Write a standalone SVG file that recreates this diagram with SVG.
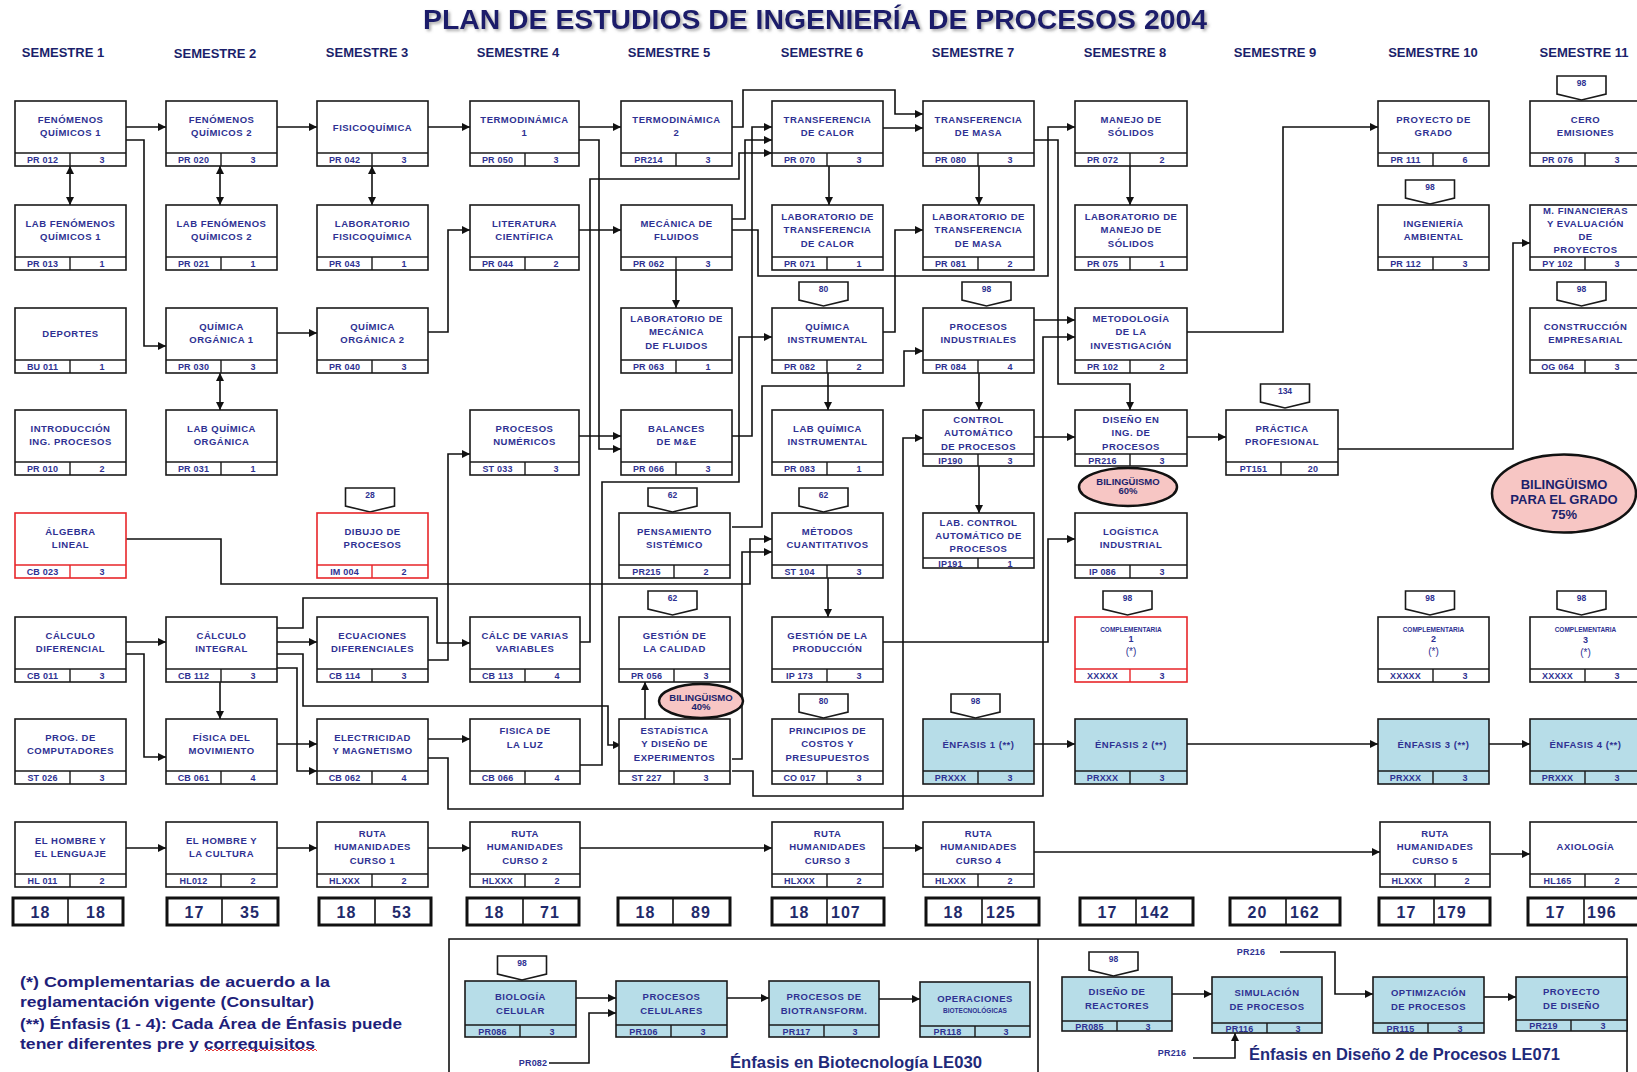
<svg xmlns="http://www.w3.org/2000/svg" width="1637" height="1072" viewBox="0 0 1637 1072">
<defs>
<marker id="a" viewBox="0 0 10 10" refX="10" refY="5" markerWidth="9" markerHeight="8" markerUnits="userSpaceOnUse" orient="auto-start-reverse"><path d="M0,0 L10,5 L0,10 z" fill="#111"/></marker>
<filter id="sh" x="-5%" y="-20%" width="110%" height="150%"><feDropShadow dx="2" dy="2" stdDeviation="1.5" flood-color="#777" flood-opacity="0.6"/></filter>
<style>
.b{fill:#fff;stroke:#1a1a1a;stroke-width:1.6}
.r{fill:#fff;stroke:#e8262a;stroke-width:1.6}
.bl{fill:#b7dde8;stroke:#1a1a1a;stroke-width:1.6}
.dl{fill:none;stroke:#1a1a1a;stroke-width:1.4}
.dr{fill:none;stroke:#e8262a;stroke-width:1.4}
.t{font-family:"Liberation Sans",Arial,sans-serif;font-size:9.5px;font-weight:bold;fill:#2e3192;text-anchor:middle;letter-spacing:0.5px}
.f{font-family:"Liberation Sans",Arial,sans-serif;font-size:9px;font-weight:bold;fill:#2e3192;text-anchor:middle;letter-spacing:0.2px}
.s{font-family:"Liberation Sans",Arial,sans-serif;font-size:6.5px;font-weight:bold;fill:#2e3192;text-anchor:middle}
.p{font-family:"Liberation Sans",Arial,sans-serif;font-size:10px;fill:#2e3192;text-anchor:middle}
.bd{fill:#fff;stroke:#1a1a1a;stroke-width:1.6}
.bt{font-family:"Liberation Sans",Arial,sans-serif;font-size:8.5px;font-weight:bold;fill:#2e3192;text-anchor:middle}
.c{fill:none;stroke:#111;stroke-width:1.6;marker-end:url(#a)}
.c2{fill:none;stroke:#111;stroke-width:1.6;marker-end:url(#a);marker-start:url(#a)}
.ln{fill:none;stroke:#111;stroke-width:1.6}
.tr{fill:#fff;stroke:#111;stroke-width:3}
.tn{font-family:"Liberation Sans",Arial,sans-serif;font-size:16px;font-weight:bold;fill:#1f2a6b;letter-spacing:1px}
.sem{font-family:"Liberation Sans",Arial,sans-serif;font-size:13px;font-weight:bold;fill:#1b1f6b;text-anchor:middle}
.el{fill:#f7c6c4;stroke:#111;stroke-width:2.5}
.et{font-family:"Liberation Sans",Arial,sans-serif;font-weight:bold;fill:#1b1f6b;text-anchor:middle}
.lg{font-family:"Liberation Sans",Arial,sans-serif;font-size:15px;font-weight:bold;fill:#1f1f7a}
</style>
</defs>
<rect width="1637" height="1072" fill="#fff"/>
<text x="815" y="29" font-family="Liberation Sans, Arial, sans-serif" font-size="27" font-weight="bold" fill="#1b1f6b" text-anchor="middle" textLength="784" lengthAdjust="spacingAndGlyphs" filter="url(#sh)">PLAN DE ESTUDIOS DE INGENIERÍA DE PROCESOS 2004</text>
<g id="headers">
<text class="sem" x="63" y="57">SEMESTRE 1</text>
<text class="sem" x="215" y="58">SEMESTRE 2</text>
<text class="sem" x="367" y="57">SEMESTRE 3</text>
<text class="sem" x="518" y="57">SEMESTRE 4</text>
<text class="sem" x="669" y="57">SEMESTRE 5</text>
<text class="sem" x="822" y="57">SEMESTRE 6</text>
<text class="sem" x="973" y="57">SEMESTRE 7</text>
<text class="sem" x="1125" y="57">SEMESTRE 8</text>
<text class="sem" x="1275" y="57">SEMESTRE 9</text>
<text class="sem" x="1433" y="57">SEMESTRE 10</text>
<text class="sem" x="1584" y="57">SEMESTRE 11</text>
</g>
<g id="connectors">
<path class="c" d="M126,127H166"/>
<path class="c" d="M126,140H144V346H166"/>
<path class="c2" d="M70,166V205"/>
<path class="c" d="M277,127H317"/>
<path class="c2" d="M220,166V205"/>
<path class="c2" d="M372,166V205"/>
<path class="c" d="M277,333H317"/>
<path class="c2" d="M220,373V410"/>
<path class="c" d="M428,127H470"/>
<path class="c" d="M428,332H448V230H470"/>
<path class="c" d="M579,127H621"/>
<path class="c" d="M579,230H621"/>
<path class="c" d="M579,140H599V449H621"/>
<path class="c" d="M579,436H621"/>
<path class="c" d="M580,642H590V179H739V153H772"/>
<path class="c" d="M732,219H745V140H772"/>
<path class="c" d="M732,436H752V127H772"/>
<path class="c" d="M732,127H743V90H895V114H923"/>
<path class="c" d="M732,230H758V276H1048V127H1075"/>
<path class="c" d="M676,270V308"/>
<path class="c" d="M883,128H923"/>
<path class="c" d="M829,166V205"/>
<path class="c" d="M979,166V205"/>
<path class="c" d="M883,332H895V230H923"/>
<path class="c" d="M828,373V410"/>
<path class="c" d="M579,765H602V482H739V337H772"/>
<path class="c" d="M732,527H762V386H904V351H923"/>
<path class="c" d="M1034,140H1058V384H1130V410"/>
<path class="c" d="M1130,166V205"/>
<path class="c" d="M1034,320H1075"/>
<path class="c" d="M732,771H753V796H1043V337H1075"/>
<path class="c" d="M428,758H448V809H903V438H923"/>
<path class="c" d="M979,373V410"/>
<path class="c" d="M979,466V513"/>
<path class="c" d="M1034,437H1075"/>
<path class="c" d="M1187,437H1226"/>
<path class="c" d="M1338,449H1513V243H1530"/>
<path class="c" d="M1187,332H1283V127H1378"/>
<path class="c" d="M883,642H1048V539H1075"/>
<path class="c" d="M828,578V617"/>
<path class="c" d="M1034,744H1075"/>
<path class="c" d="M1187,744H1378"/>
<path class="c" d="M1489,744H1530"/>
<path class="c" d="M126,848H166"/>
<path class="c" d="M277,848H317"/>
<path class="c" d="M428,848H470"/>
<path class="c" d="M579,848H772"/>
<path class="c" d="M883,848H923"/>
<path class="c" d="M1034,852H1380"/>
<path class="c" d="M1491,854H1530"/>
<path class="c" d="M126,642H166"/>
<path class="c" d="M126,654H144V757H166"/>
<path class="c" d="M277,642H317"/>
<path class="c" d="M220,682V719"/>
<path class="c" d="M277,628H303V598H437V643H470"/>
<path class="c" d="M277,654H303V706H608V745H621"/>
<path class="c" d="M277,668H297V771H317"/>
<path class="c" d="M277,744H317"/>
<path class="c" d="M428,660H448V454H470"/>
<path class="c" d="M428,739H470"/>
<path class="c" d="M645,719V682"/>
<path class="c" d="M126,539H221V584H750V539H772"/>
<path class="c" d="M732,759H742V552H772"/>
<path class="c" d="M576,998H616"/>
<path class="c" d="M549,1063H589V1013H616"/>
<path class="c" d="M727,998H769"/>
<path class="c" d="M879,999H920"/>
<path class="c" d="M1172,994H1212"/>
<path class="c" d="M1280,952H1335V994H1373"/>
<path class="c" d="M1193,1058H1235V1033"/>
<path class="c" d="M1484,997H1516"/>
</g>
<!-- column 1 -->
<g id="n-fq1"><rect class="b" x="15" y="101" width="111" height="65"/><path class="dl" d="M15,153H126M70,153V166"/><text class="t"><tspan x="70.5" y="122.5">FENÓMENOS</tspan><tspan x="70.5" y="136">QUÍMICOS 1</tspan></text><text class="f" x="42.5" y="163">PR 012</text><text class="f" x="102" y="163">3</text></g>
<g id="n-labfq1"><rect class="b" x="15" y="205" width="111" height="65"/><path class="dl" d="M15,257H126M70,257V270"/><text class="t"><tspan x="70.5" y="226.5">LAB FENÓMENOS</tspan><tspan x="70.5" y="240">QUÍMICOS 1</tspan></text><text class="f" x="42.5" y="267">PR 013</text><text class="f" x="102" y="267">1</text></g>
<g id="n-dep"><rect class="b" x="15" y="308" width="111" height="65"/><path class="dl" d="M15,360H126M70,360V373"/><text class="t" x="70.5" y="336.5">DEPORTES</text><text class="f" x="42.5" y="370">BU 011</text><text class="f" x="102" y="370">1</text></g>
<g id="n-intro"><rect class="b" x="15" y="410" width="111" height="65"/><path class="dl" d="M15,462H126M70,462V475"/><text class="t"><tspan x="70.5" y="431.5">INTRODUCCIÓN</tspan><tspan x="70.5" y="445">ING. PROCESOS</tspan></text><text class="f" x="42.5" y="472">PR 010</text><text class="f" x="102" y="472">2</text></g>
<g id="n-alg"><rect class="r" x="15" y="513" width="111" height="65"/><path class="dr" d="M15,565H126M70,565V578"/><text class="t"><tspan x="70.5" y="534.5">ÁLGEBRA</tspan><tspan x="70.5" y="548">LINEAL</tspan></text><text class="f" x="42.5" y="575">CB 023</text><text class="f" x="102" y="575">3</text></g>
<g id="n-cdif"><rect class="b" x="15" y="617" width="111" height="65"/><path class="dl" d="M15,669H126M70,669V682"/><text class="t"><tspan x="70.5" y="638.5">CÁLCULO</tspan><tspan x="70.5" y="652">DIFERENCIAL</tspan></text><text class="f" x="42.5" y="679">CB 011</text><text class="f" x="102" y="679">3</text></g>
<g id="n-prog"><rect class="b" x="15" y="719" width="111" height="65"/><path class="dl" d="M15,771H126M70,771V784"/><text class="t"><tspan x="70.5" y="740.5">PROG. DE</tspan><tspan x="70.5" y="754">COMPUTADORES</tspan></text><text class="f" x="42.5" y="781">ST 026</text><text class="f" x="102" y="781">3</text></g>
<g id="n-hl1"><rect class="b" x="15" y="822" width="111" height="65"/><path class="dl" d="M15,874H126M70,874V887"/><text class="t"><tspan x="70.5" y="843.5">EL HOMBRE Y</tspan><tspan x="70.5" y="857">EL LENGUAJE</tspan></text><text class="f" x="42.5" y="884">HL 011</text><text class="f" x="102" y="884">2</text></g>
<!-- column 2 -->
<g id="n-fq2"><rect class="b" x="166" y="101" width="111" height="65"/><path class="dl" d="M166,153H277M221,153V166"/><text class="t"><tspan x="221.5" y="122.5">FENÓMENOS</tspan><tspan x="221.5" y="136">QUÍMICOS 2</tspan></text><text class="f" x="193.5" y="163">PR 020</text><text class="f" x="253" y="163">3</text></g>
<g id="n-labfq2"><rect class="b" x="166" y="205" width="111" height="65"/><path class="dl" d="M166,257H277M221,257V270"/><text class="t"><tspan x="221.5" y="226.5">LAB FENÓMENOS</tspan><tspan x="221.5" y="240">QUÍMICOS 2</tspan></text><text class="f" x="193.5" y="267">PR 021</text><text class="f" x="253" y="267">1</text></g>
<g id="n-qo1"><rect class="b" x="166" y="308" width="111" height="65"/><path class="dl" d="M166,360H277M221,360V373"/><text class="t"><tspan x="221.5" y="329.5">QUÍMICA</tspan><tspan x="221.5" y="343">ORGÁNICA 1</tspan></text><text class="f" x="193.5" y="370">PR 030</text><text class="f" x="253" y="370">3</text></g>
<g id="n-labqo"><rect class="b" x="166" y="410" width="111" height="65"/><path class="dl" d="M166,462H277M221,462V475"/><text class="t"><tspan x="221.5" y="431.5">LAB QUÍMICA</tspan><tspan x="221.5" y="445">ORGÁNICA</tspan></text><text class="f" x="193.5" y="472">PR 031</text><text class="f" x="253" y="472">1</text></g>
<g id="n-cint"><rect class="b" x="166" y="617" width="111" height="65"/><path class="dl" d="M166,669H277M221,669V682"/><text class="t"><tspan x="221.5" y="638.5">CÁLCULO</tspan><tspan x="221.5" y="652">INTEGRAL</tspan></text><text class="f" x="193.5" y="679">CB 112</text><text class="f" x="253" y="679">3</text></g>
<g id="n-fmov"><rect class="b" x="166" y="719" width="111" height="65"/><path class="dl" d="M166,771H277M221,771V784"/><text class="t"><tspan x="221.5" y="740.5">FÍSICA DEL</tspan><tspan x="221.5" y="754">MOVIMIENTO</tspan></text><text class="f" x="193.5" y="781">CB 061</text><text class="f" x="253" y="781">4</text></g>
<g id="n-hl2"><rect class="b" x="166" y="822" width="111" height="65"/><path class="dl" d="M166,874H277M221,874V887"/><text class="t"><tspan x="221.5" y="843.5">EL HOMBRE Y</tspan><tspan x="221.5" y="857">LA CULTURA</tspan></text><text class="f" x="193.5" y="884">HL012</text><text class="f" x="253" y="884">2</text></g>
<!-- column 3 -->
<g id="n-fisq"><rect class="b" x="317" y="101" width="111" height="65"/><path class="dl" d="M317,153H428M372,153V166"/><text class="t" x="372.5" y="130.5">FISICOQUÍMICA</text><text class="f" x="344.5" y="163">PR 042</text><text class="f" x="404" y="163">3</text></g>
<g id="n-labfisq"><rect class="b" x="317" y="205" width="111" height="65"/><path class="dl" d="M317,257H428M372,257V270"/><text class="t"><tspan x="372.5" y="226.5">LABORATORIO</tspan><tspan x="372.5" y="240">FISICOQUÍMICA</tspan></text><text class="f" x="344.5" y="267">PR 043</text><text class="f" x="404" y="267">1</text></g>
<g id="n-qo2"><rect class="b" x="317" y="308" width="111" height="65"/><path class="dl" d="M317,360H428M372,360V373"/><text class="t"><tspan x="372.5" y="329.5">QUÍMICA</tspan><tspan x="372.5" y="343">ORGÁNICA 2</tspan></text><text class="f" x="344.5" y="370">PR 040</text><text class="f" x="404" y="370">3</text></g>
<g id="n-dib"><path class="bd" d="M345.5,488H394.5V506L370,512L345.5,506Z"/><text class="bt" x="370" y="498">28</text><rect class="r" x="317" y="513" width="111" height="65"/><path class="dr" d="M317,565H428M372,565V578"/><text class="t"><tspan x="372.5" y="534.5">DIBUJO DE</tspan><tspan x="372.5" y="548">PROCESOS</tspan></text><text class="f" x="344.5" y="575">IM 004</text><text class="f" x="404" y="575">2</text></g>
<g id="n-ecua"><rect class="b" x="317" y="617" width="111" height="65"/><path class="dl" d="M317,669H428M372,669V682"/><text class="t"><tspan x="372.5" y="638.5">ECUACIONES</tspan><tspan x="372.5" y="652">DIFERENCIALES</tspan></text><text class="f" x="344.5" y="679">CB 114</text><text class="f" x="404" y="679">3</text></g>
<g id="n-elec"><rect class="b" x="317" y="719" width="111" height="65"/><path class="dl" d="M317,771H428M372,771V784"/><text class="t"><tspan x="372.5" y="740.5">ELECTRICIDAD</tspan><tspan x="372.5" y="754">Y MAGNETISMO</tspan></text><text class="f" x="344.5" y="781">CB 062</text><text class="f" x="404" y="781">4</text></g>
<g id="n-ruta1"><rect class="b" x="317" y="822" width="111" height="65"/><path class="dl" d="M317,874H428M372,874V887"/><text class="t"><tspan x="372.5" y="836.5">RUTA</tspan><tspan x="372.5" y="850">HUMANIDADES</tspan><tspan x="372.5" y="863.5">CURSO 1</tspan></text><text class="f" x="344.5" y="884">HLXXX</text><text class="f" x="404" y="884">2</text></g>
<!-- column 4 -->
<g id="n-termo1"><rect class="b" x="470" y="101" width="109" height="65"/><path class="dl" d="M470,153H579M525,153V166"/><text class="t"><tspan x="524.5" y="122.5">TERMODINÁMICA</tspan><tspan x="524.5" y="136">1</tspan></text><text class="f" x="497.5" y="163">PR 050</text><text class="f" x="556" y="163">3</text></g>
<g id="n-lit"><rect class="b" x="470" y="205" width="109" height="65"/><path class="dl" d="M470,257H579M525,257V270"/><text class="t"><tspan x="524.5" y="226.5">LITERATURA</tspan><tspan x="524.5" y="240">CIENTÍFICA</tspan></text><text class="f" x="497.5" y="267">PR 044</text><text class="f" x="556" y="267">2</text></g>
<g id="n-pnum"><rect class="b" x="470" y="410" width="109" height="65"/><path class="dl" d="M470,462H579M525,462V475"/><text class="t"><tspan x="524.5" y="431.5">PROCESOS</tspan><tspan x="524.5" y="445">NUMÉRICOS</tspan></text><text class="f" x="497.5" y="472">ST 033</text><text class="f" x="556" y="472">3</text></g>
<g id="n-cvar"><rect class="b" x="470" y="617" width="110" height="65"/><path class="dl" d="M470,669H580M525,669V682"/><text class="t"><tspan x="525" y="638.5">CÁLC DE  VARIAS</tspan><tspan x="525" y="652">VARIABLES</tspan></text><text class="f" x="497.5" y="679">CB 113</text><text class="f" x="557" y="679">4</text></g>
<g id="n-fluz"><rect class="b" x="470" y="719" width="110" height="65"/><path class="dl" d="M470,771H580M525,771V784"/><text class="t"><tspan x="525" y="734">FISICA DE</tspan><tspan x="525" y="747.5">LA LUZ</tspan></text><text class="f" x="497.5" y="781">CB 066</text><text class="f" x="557" y="781">4</text></g>
<g id="n-ruta2"><rect class="b" x="470" y="822" width="110" height="65"/><path class="dl" d="M470,874H580M525,874V887"/><text class="t"><tspan x="525" y="836.5">RUTA</tspan><tspan x="525" y="850">HUMANIDADES</tspan><tspan x="525" y="863.5">CURSO 2</tspan></text><text class="f" x="497.5" y="884">HLXXX</text><text class="f" x="557" y="884">2</text></g>
<!-- column 5 -->
<g id="n-termo2"><rect class="b" x="621" y="101" width="111" height="65"/><path class="dl" d="M621,153H732M676,153V166"/><text class="t"><tspan x="676.5" y="122.5">TERMODINÁMICA</tspan><tspan x="676.5" y="136">2</tspan></text><text class="f" x="648.5" y="163">PR214</text><text class="f" x="708" y="163">3</text></g>
<g id="n-mec"><rect class="b" x="621" y="205" width="111" height="65"/><path class="dl" d="M621,257H732M676,257V270"/><text class="t"><tspan x="676.5" y="226.5">MECÁNICA DE</tspan><tspan x="676.5" y="240">FLUIDOS</tspan></text><text class="f" x="648.5" y="267">PR 062</text><text class="f" x="708" y="267">3</text></g>
<g id="n-labmec"><rect class="b" x="621" y="308" width="111" height="65"/><path class="dl" d="M621,360H732M676,360V373"/><text class="t"><tspan x="676.5" y="321.5">LABORATORIO DE</tspan><tspan x="676.5" y="335">MECÁNICA</tspan><tspan x="676.5" y="348.5">DE FLUIDOS</tspan></text><text class="f" x="648.5" y="370">PR 063</text><text class="f" x="708" y="370">1</text></g>
<g id="n-bal"><rect class="b" x="621" y="410" width="111" height="65"/><path class="dl" d="M621,462H732M676,462V475"/><text class="t"><tspan x="676.5" y="431.5">BALANCES</tspan><tspan x="676.5" y="445">DE M&amp;E</tspan></text><text class="f" x="648.5" y="472">PR 066</text><text class="f" x="708" y="472">3</text></g>
<g id="n-pens"><path class="bd" d="M648,488H697V506L672.5,512L648,506Z"/><text class="bt" x="672.5" y="498">62</text><rect class="b" x="619" y="513" width="111" height="65"/><path class="dl" d="M619,565H730M674,565V578"/><text class="t"><tspan x="674.5" y="534.5">PENSAMIENTO</tspan><tspan x="674.5" y="548">SISTÉMICO</tspan></text><text class="f" x="646.5" y="575">PR215</text><text class="f" x="706" y="575">2</text></g>
<g id="n-gcal"><path class="bd" d="M648,591H697V609L672.5,615L648,609Z"/><text class="bt" x="672.5" y="601">62</text><rect class="b" x="619" y="617" width="111" height="65"/><path class="dl" d="M619,669H730M674,669V682"/><text class="t"><tspan x="674.5" y="638.5">GESTIÓN DE</tspan><tspan x="674.5" y="652">LA CALIDAD</tspan></text><text class="f" x="646.5" y="679">PR 056</text><text class="f" x="706" y="679">3</text></g>
<g id="n-est"><rect class="b" x="619" y="719" width="111" height="65"/><path class="dl" d="M619,771H730M674,771V784"/><text class="t"><tspan x="674.5" y="733.5">ESTADÍSTICA</tspan><tspan x="674.5" y="747">Y DISEÑO DE</tspan><tspan x="674.5" y="760.5">EXPERIMENTOS</tspan></text><text class="f" x="646.5" y="781">ST 227</text><text class="f" x="706" y="781">3</text></g>
<g id="n-bil40"><ellipse class="el" cx="701" cy="701" rx="42" ry="17"/><text class="et" font-size="9.5" x="701" y="700.5">BILINGÜISMO</text><text class="et" font-size="9.5" x="701" y="710">40%</text></g>
<!-- column 6 -->
<g id="n-tc"><rect class="b" x="772" y="101" width="111" height="65"/><path class="dl" d="M772,153H883M827,153V166"/><text class="t"><tspan x="827.5" y="122.5">TRANSFERENCIA</tspan><tspan x="827.5" y="136">DE CALOR</tspan></text><text class="f" x="799.5" y="163">PR 070</text><text class="f" x="859" y="163">3</text></g>
<g id="n-labtc"><rect class="b" x="772" y="205" width="111" height="65"/><path class="dl" d="M772,257H883M827,257V270"/><text class="t"><tspan x="827.5" y="219.5">LABORATORIO DE</tspan><tspan x="827.5" y="233">TRANSFERENCIA</tspan><tspan x="827.5" y="246.5">DE CALOR</tspan></text><text class="f" x="799.5" y="267">PR 071</text><text class="f" x="859" y="267">1</text></g>
<g id="n-qi"><path class="bd" d="M799,282H848V300L823.5,306L799,300Z"/><text class="bt" x="823.5" y="292">80</text><rect class="b" x="772" y="308" width="111" height="65"/><path class="dl" d="M772,360H883M827,360V373"/><text class="t"><tspan x="827.5" y="329.5">QUÍMICA</tspan><tspan x="827.5" y="343">INSTRUMENTAL</tspan></text><text class="f" x="799.5" y="370">PR 082</text><text class="f" x="859" y="370">2</text></g>
<g id="n-labqi"><rect class="b" x="772" y="410" width="111" height="65"/><path class="dl" d="M772,462H883M827,462V475"/><text class="t"><tspan x="827.5" y="431.5">LAB QUÍMICA</tspan><tspan x="827.5" y="445">INSTRUMENTAL</tspan></text><text class="f" x="799.5" y="472">PR 083</text><text class="f" x="859" y="472">1</text></g>
<g id="n-met"><path class="bd" d="M799,488H848V506L823.5,512L799,506Z"/><text class="bt" x="823.5" y="498">62</text><rect class="b" x="772" y="513" width="111" height="65"/><path class="dl" d="M772,565H883M827,565V578"/><text class="t"><tspan x="827.5" y="534.5">MÉTODOS</tspan><tspan x="827.5" y="548">CUANTITATIVOS</tspan></text><text class="f" x="799.5" y="575">ST 104</text><text class="f" x="859" y="575">3</text></g>
<g id="n-gprod"><rect class="b" x="772" y="617" width="111" height="65"/><path class="dl" d="M772,669H883M827,669V682"/><text class="t"><tspan x="827.5" y="638.5">GESTIÓN DE LA</tspan><tspan x="827.5" y="652">PRODUCCIÓN</tspan></text><text class="f" x="799.5" y="679">IP 173</text><text class="f" x="859" y="679">3</text></g>
<g id="n-cost"><path class="bd" d="M799,694H848V712L823.5,718L799,712Z"/><text class="bt" x="823.5" y="704">80</text><rect class="b" x="772" y="719" width="111" height="65"/><path class="dl" d="M772,771H883M827,771V784"/><text class="t"><tspan x="827.5" y="733.5">PRINCIPIOS DE</tspan><tspan x="827.5" y="747">COSTOS Y</tspan><tspan x="827.5" y="760.5">PRESUPUESTOS</tspan></text><text class="f" x="799.5" y="781">CO 017</text><text class="f" x="859" y="781">3</text></g>
<g id="n-ruta3"><rect class="b" x="772" y="822" width="111" height="65"/><path class="dl" d="M772,874H883M827,874V887"/><text class="t"><tspan x="827.5" y="836.5">RUTA</tspan><tspan x="827.5" y="850">HUMANIDADES</tspan><tspan x="827.5" y="863.5">CURSO 3</tspan></text><text class="f" x="799.5" y="884">HLXXX</text><text class="f" x="859" y="884">2</text></g>
<!-- column 7 -->
<g id="n-tm"><rect class="b" x="923" y="101" width="111" height="65"/><path class="dl" d="M923,153H1034M978,153V166"/><text class="t"><tspan x="978.5" y="122.5">TRANSFERENCIA</tspan><tspan x="978.5" y="136">DE MASA</tspan></text><text class="f" x="950.5" y="163">PR 080</text><text class="f" x="1010" y="163">3</text></g>
<g id="n-labtm"><rect class="b" x="923" y="205" width="111" height="65"/><path class="dl" d="M923,257H1034M978,257V270"/><text class="t"><tspan x="978.5" y="219.5">LABORATORIO DE</tspan><tspan x="978.5" y="233">TRANSFERENCIA</tspan><tspan x="978.5" y="246.5">DE MASA</tspan></text><text class="f" x="950.5" y="267">PR 081</text><text class="f" x="1010" y="267">2</text></g>
<g id="n-pind"><path class="bd" d="M962,282H1011V300L986.5,306L962,300Z"/><text class="bt" x="986.5" y="292">98</text><rect class="b" x="923" y="308" width="111" height="65"/><path class="dl" d="M923,360H1034M978,360V373"/><text class="t"><tspan x="978.5" y="329.5">PROCESOS</tspan><tspan x="978.5" y="343">INDUSTRIALES</tspan></text><text class="f" x="950.5" y="370">PR 084</text><text class="f" x="1010" y="370">4</text></g>
<g id="n-ctrl"><rect class="b" x="923" y="410" width="111" height="56"/><path class="dl" d="M923,454H1034M978,454V466"/><text class="t"><tspan x="978.5" y="422.5">CONTROL</tspan><tspan x="978.5" y="436">AUTOMÁTICO</tspan><tspan x="978.5" y="449.5">DE PROCESOS</tspan></text><text class="f" x="950.5" y="463.5">IP190</text><text class="f" x="1010" y="463.5">3</text></g>
<g id="n-labctrl"><rect class="b" x="923" y="513" width="111" height="55"/><path class="dl" d="M923,558H1034M978,558V568"/><text class="t"><tspan x="978.5" y="525.5">LAB. CONTROL</tspan><tspan x="978.5" y="538.5">AUTOMÁTICO DE</tspan><tspan x="978.5" y="551.5">PROCESOS</tspan></text><text class="f" x="950.5" y="566.5">IP191</text><text class="f" x="1010" y="566.5">1</text></g>
<g id="n-enf1"><path class="bd" d="M951,694H1000V712L975.5,718L951,712Z"/><text class="bt" x="975.5" y="704">98</text><rect class="bl" x="923" y="719" width="111" height="65"/><path class="dl" d="M923,771H1034M978,771V784"/><text class="t" x="978.5" y="747.5">ÉNFASIS 1 (**)</text><text class="f" x="950.5" y="781">PRXXX</text><text class="f" x="1010" y="781">3</text></g>
<g id="n-ruta4"><rect class="b" x="923" y="822" width="111" height="65"/><path class="dl" d="M923,874H1034M978,874V887"/><text class="t"><tspan x="978.5" y="836.5">RUTA</tspan><tspan x="978.5" y="850">HUMANIDADES</tspan><tspan x="978.5" y="863.5">CURSO 4</tspan></text><text class="f" x="950.5" y="884">HLXXX</text><text class="f" x="1010" y="884">2</text></g>
<!-- column 8 -->
<g id="n-man"><rect class="b" x="1075" y="101" width="112" height="65"/><path class="dl" d="M1075,153H1187M1130,153V166"/><text class="t"><tspan x="1131" y="122.5">MANEJO DE</tspan><tspan x="1131" y="136">SÓLIDOS</tspan></text><text class="f" x="1102.5" y="163">PR 072</text><text class="f" x="1162" y="163">2</text></g>
<g id="n-labman"><rect class="b" x="1075" y="205" width="112" height="65"/><path class="dl" d="M1075,257H1187M1130,257V270"/><text class="t"><tspan x="1131" y="219.5">LABORATORIO DE</tspan><tspan x="1131" y="233">MANEJO DE</tspan><tspan x="1131" y="246.5">SÓLIDOS</tspan></text><text class="f" x="1102.5" y="267">PR 075</text><text class="f" x="1162" y="267">1</text></g>
<g id="n-metod"><rect class="b" x="1075" y="308" width="112" height="65"/><path class="dl" d="M1075,360H1187M1130,360V373"/><text class="t"><tspan x="1131" y="321.5">METODOLOGÍA</tspan><tspan x="1131" y="335">DE LA</tspan><tspan x="1131" y="348.5">INVESTIGACIÓN</tspan></text><text class="f" x="1102.5" y="370">PR 102</text><text class="f" x="1162" y="370">2</text></g>
<g id="n-dis"><rect class="b" x="1075" y="410" width="112" height="56"/><path class="dl" d="M1075,454H1187M1130,454V466"/><text class="t"><tspan x="1131" y="422.5">DISEÑO EN</tspan><tspan x="1131" y="436">ING. DE</tspan><tspan x="1131" y="449.5">PROCESOS</tspan></text><text class="f" x="1102.5" y="463.5">PR216</text><text class="f" x="1162" y="463.5">3</text></g>
<g id="n-bil60"><ellipse class="el" cx="1128" cy="487" rx="49" ry="19"/><text class="et" font-size="9.5" x="1128" y="484.5">BILINGÜISMO</text><text class="et" font-size="9.5" x="1128" y="494">60%</text></g>
<g id="n-log"><rect class="b" x="1075" y="513" width="112" height="65"/><path class="dl" d="M1075,565H1187M1130,565V578"/><text class="t"><tspan x="1131" y="534.5">LOGÍSTICA</tspan><tspan x="1131" y="548">INDUSTRIAL</tspan></text><text class="f" x="1102.5" y="575">IP 086</text><text class="f" x="1162" y="575">3</text></g>
<g id="n-comp1"><path class="bd" d="M1103,591H1152V609L1127.5,615L1103,609Z"/><text class="bt" x="1127.5" y="601">98</text><rect class="r" x="1075" y="617" width="112" height="65"/><path class="dr" d="M1075,669H1187M1130,669V682"/><text class="s" x="1131" y="631.5">COMPLEMENTARIA</text><text class="f" x="1131" y="642">1</text><text class="p" x="1131" y="655">(*)</text><text class="f" x="1102.5" y="679">XXXXX</text><text class="f" x="1162" y="679">3</text></g>
<g id="n-enf2"><rect class="bl" x="1075" y="719" width="112" height="65"/><path class="dl" d="M1075,771H1187M1130,771V784"/><text class="t" x="1131" y="747.5">ÉNFASIS 2 (**)</text><text class="f" x="1102.5" y="781">PRXXX</text><text class="f" x="1162" y="781">3</text></g>
<!-- column 9 -->
<g id="n-prac"><path class="bd" d="M1260.5,384H1309.5V402L1285,408L1260.5,402Z"/><text class="bt" x="1285" y="394">134</text><rect class="b" x="1226" y="410" width="112" height="65"/><path class="dl" d="M1226,462H1338M1281,462V475"/><text class="t"><tspan x="1282" y="431.5">PRÁCTICA</tspan><tspan x="1282" y="445">PROFESIONAL</tspan></text><text class="f" x="1253.5" y="472">PT151</text><text class="f" x="1313" y="472">20</text></g>
<!-- column 10 -->
<g id="n-pgrado"><rect class="b" x="1378" y="101" width="111" height="65"/><path class="dl" d="M1378,153H1489M1433,153V166"/><text class="t"><tspan x="1433.5" y="122.5">PROYECTO DE</tspan><tspan x="1433.5" y="136">GRADO</tspan></text><text class="f" x="1405.5" y="163">PR 111</text><text class="f" x="1465" y="163">6</text></g>
<g id="n-amb"><path class="bd" d="M1405.5,180H1454.5V198L1430,204L1405.5,198Z"/><text class="bt" x="1430" y="190">98</text><rect class="b" x="1378" y="205" width="111" height="65"/><path class="dl" d="M1378,257H1489M1433,257V270"/><text class="t"><tspan x="1433.5" y="226.5">INGENIERÍA</tspan><tspan x="1433.5" y="240">AMBIENTAL</tspan></text><text class="f" x="1405.5" y="267">PR 112</text><text class="f" x="1465" y="267">3</text></g>
<g id="n-comp2"><path class="bd" d="M1405.5,591H1454.5V609L1430,615L1405.5,609Z"/><text class="bt" x="1430" y="601">98</text><rect class="b" x="1378" y="617" width="111" height="65"/><path class="dl" d="M1378,669H1489M1433,669V682"/><text class="s" x="1433.5" y="631.5">COMPLEMENTARIA</text><text class="f" x="1433.5" y="642">2</text><text class="p" x="1433.5" y="655">(*)</text><text class="f" x="1405.5" y="679">XXXXX</text><text class="f" x="1465" y="679">3</text></g>
<g id="n-enf3"><rect class="bl" x="1378" y="719" width="111" height="65"/><path class="dl" d="M1378,771H1489M1433,771V784"/><text class="t" x="1433.5" y="747.5">ÉNFASIS 3 (**)</text><text class="f" x="1405.5" y="781">PRXXX</text><text class="f" x="1465" y="781">3</text></g>
<g id="n-ruta5"><rect class="b" x="1380" y="822" width="110" height="65"/><path class="dl" d="M1380,874H1490M1435,874V887"/><text class="t"><tspan x="1435" y="836.5">RUTA</tspan><tspan x="1435" y="850">HUMANIDADES</tspan><tspan x="1435" y="863.5">CURSO 5</tspan></text><text class="f" x="1407" y="884">HLXXX</text><text class="f" x="1467" y="884">2</text></g>
<!-- column 11 -->
<g id="n-cero"><path class="bd" d="M1557,76H1606V94L1581.5,100L1557,94Z"/><text class="bt" x="1581.5" y="86">98</text><rect class="b" x="1530" y="101" width="111" height="65"/><path class="dl" d="M1530,153H1641M1585,153V166"/><text class="t"><tspan x="1585.5" y="122.5">CERO</tspan><tspan x="1585.5" y="136">EMISIONES</tspan></text><text class="f" x="1557.5" y="163">PR 076</text><text class="f" x="1617" y="163">3</text></g>
<g id="n-mfin"><rect class="b" x="1530" y="205" width="111" height="65"/><path class="dl" d="M1530,257H1641M1585,257V270"/><text class="t"><tspan x="1585.5" y="213.5">M. FINANCIERAS</tspan><tspan x="1585.5" y="226.5">Y EVALUACIÓN</tspan><tspan x="1585.5" y="240">DE</tspan><tspan x="1585.5" y="252.5">PROYECTOS</tspan></text><text class="f" x="1557.5" y="267">PY 102</text><text class="f" x="1617" y="267">3</text></g>
<g id="n-cons"><path class="bd" d="M1557,282H1606V300L1581.5,306L1557,300Z"/><text class="bt" x="1581.5" y="292">98</text><rect class="b" x="1530" y="308" width="111" height="65"/><path class="dl" d="M1530,360H1641M1585,360V373"/><text class="t"><tspan x="1585.5" y="329.5">CONSTRUCCIÓN</tspan><tspan x="1585.5" y="343">EMPRESARIAL</tspan></text><text class="f" x="1557.5" y="370">OG 064</text><text class="f" x="1617" y="370">3</text></g>
<g id="n-bil75"><ellipse class="el" cx="1564" cy="493.5" rx="72" ry="39"/><text class="et" font-size="13" x="1564" y="488.5">BILINGÜISMO</text><text class="et" font-size="13" x="1564" y="503.5">PARA EL GRADO</text><text class="et" font-size="13" x="1564" y="519">75%</text></g>
<g id="n-comp3"><path class="bd" d="M1557,591H1606V609L1581.5,615L1557,609Z"/><text class="bt" x="1581.5" y="601">98</text><rect class="b" x="1530" y="617" width="111" height="65"/><path class="dl" d="M1530,669H1641M1585,669V682"/><text class="s" x="1585.5" y="631.5">COMPLEMENTARIA</text><text class="f" x="1585.5" y="643">3</text><text class="p" x="1585.5" y="656">(*)</text><text class="f" x="1557.5" y="679">XXXXX</text><text class="f" x="1617" y="679">3</text></g>
<g id="n-enf4"><rect class="bl" x="1530" y="719" width="111" height="65"/><path class="dl" d="M1530,771H1641M1585,771V784"/><text class="t" x="1585.5" y="747.5">ÉNFASIS 4 (**)</text><text class="f" x="1557.5" y="781">PRXXX</text><text class="f" x="1617" y="781">3</text></g>
<g id="n-axio"><rect class="b" x="1530" y="822" width="111" height="65"/><path class="dl" d="M1530,874H1641M1585,874V887"/><text class="t" x="1585.5" y="849.5">AXIOLOGÍA</text><text class="f" x="1557.5" y="884">HL165</text><text class="f" x="1617" y="884">2</text></g>
<!-- totals -->
<g id="totals">
<rect class="tr" x="13" y="898" width="110" height="27"/><path class="ln" stroke-width="3" d="M68,898V925"/><text class="tn" x="40.5" y="917.5" text-anchor="middle">18</text><text class="tn" x="96" y="917.5" text-anchor="middle">18</text>
<rect class="tr" x="167" y="898" width="111" height="27"/><path class="ln" stroke-width="3" d="M222,898V925"/><text class="tn" x="194.5" y="917.5" text-anchor="middle">17</text><text class="tn" x="250" y="917.5" text-anchor="middle">35</text>
<rect class="tr" x="319" y="898" width="112" height="27"/><path class="ln" stroke-width="3" d="M375,898V925"/><text class="tn" x="346.5" y="917.5" text-anchor="middle">18</text><text class="tn" x="402" y="917.5" text-anchor="middle">53</text>
<rect class="tr" x="467" y="898" width="112" height="27"/><path class="ln" stroke-width="3" d="M523,898V925"/><text class="tn" x="494.5" y="917.5" text-anchor="middle">18</text><text class="tn" x="550" y="917.5" text-anchor="middle">71</text>
<rect class="tr" x="618" y="898" width="112" height="27"/><path class="ln" stroke-width="3" d="M673,898V925"/><text class="tn" x="645.5" y="917.5" text-anchor="middle">18</text><text class="tn" x="701" y="917.5" text-anchor="middle">89</text>
<rect class="tr" x="772" y="898" width="112" height="27"/><path class="ln" stroke-width="3" d="M827,898V925"/><text class="tn" x="799.5" y="917.5" text-anchor="middle">18</text><text class="tn" x="831" y="917.5">107</text>
<rect class="tr" x="926" y="898" width="113" height="27"/><path class="ln" stroke-width="3" d="M982,898V925"/><text class="tn" x="953.5" y="917.5" text-anchor="middle">18</text><text class="tn" x="986" y="917.5">125</text>
<rect class="tr" x="1080" y="898" width="113" height="27"/><path class="ln" stroke-width="3" d="M1136,898V925"/><text class="tn" x="1107.5" y="917.5" text-anchor="middle">17</text><text class="tn" x="1140" y="917.5">142</text>
<rect class="tr" x="1230" y="898" width="110" height="27"/><path class="ln" stroke-width="3" d="M1286,898V925"/><text class="tn" x="1257.5" y="917.5" text-anchor="middle">20</text><text class="tn" x="1290" y="917.5">162</text>
<rect class="tr" x="1379" y="898" width="111" height="27"/><path class="ln" stroke-width="3" d="M1434,898V925"/><text class="tn" x="1406.5" y="917.5" text-anchor="middle">17</text><text class="tn" x="1437" y="917.5">179</text>
<rect class="tr" x="1528" y="898" width="112" height="27"/><path class="ln" stroke-width="3" d="M1584,898V925"/><text class="tn" x="1555.5" y="917.5" text-anchor="middle">17</text><text class="tn" x="1587" y="917.5">196</text>
</g>
<!-- legend -->
<g id="legend">
<text class="lg" x="20" y="987" textLength="310" lengthAdjust="spacingAndGlyphs">(*)  Complementarias de acuerdo a la</text>
<text class="lg" x="20" y="1007" textLength="294" lengthAdjust="spacingAndGlyphs">reglamentación vigente (Consultar)</text>
<text class="lg" x="20" y="1029" textLength="382" lengthAdjust="spacingAndGlyphs">(**) Énfasis (1 - 4): Cada Área de Énfasis  puede</text>
<text class="lg" x="20" y="1049" textLength="295" lengthAdjust="spacingAndGlyphs">tener diferentes pre y correquisitos</text>
<path d="M205,1051 l2,-2 l2,2 l2,-2 l2,2 l2,-2 l2,2 l2,-2 l2,2 l2,-2 l2,2 l2,-2 l2,2 l2,-2 l2,2 l2,-2 l2,2 l2,-2 l2,2 l2,-2 l2,2 l2,-2 l2,2 l2,-2 l2,2 l2,-2 l2,2 l2,-2 l2,2 l2,-2 l2,2 l2,-2 l2,2 l2,-2 l2,2 l2,-2 l2,2 l2,-2 l2,2 l2,-2 l2,2 l2,-2 l2,2 l2,-2 l2,2 l2,-2 l2,2 l2,-2 l2,2 l2,-2 l2,2 l2,-2 l2,2 l2,-2 l2,2 l2,-2 l2,2" fill="none" stroke="#e02020" stroke-width="0.9"/>
</g>
<!-- enfasis panels -->
<g id="panels">
<path class="ln" stroke-width="2" d="M449,1072V939H1627V1072"/>
<path class="ln" stroke-width="3" d="M1038,939V1072"/>
<text x="856" y="1068" font-family="Liberation Sans, Arial, sans-serif" font-size="17" font-weight="bold" fill="#1f2a7a" text-anchor="middle" textLength="252" lengthAdjust="spacingAndGlyphs">Énfasis en Biotecnología LE030</text>
<text x="1404.5" y="1060" font-family="Liberation Sans, Arial, sans-serif" font-size="17" font-weight="bold" fill="#1f2a7a" text-anchor="middle" textLength="311" lengthAdjust="spacingAndGlyphs">Énfasis en Diseño 2 de Procesos LE071</text>
<text class="f" x="533" y="1066">PR082</text>
<text class="f" x="1251" y="955">PR216</text>
<text class="f" x="1172" y="1056">PR216</text>
</g>
<g id="n-bio"><path class="bd" d="M497.5,956H546.5V974L522,980L497.5,974Z"/><text class="bt" x="522" y="966">98</text><rect class="bl" x="465" y="981" width="111" height="56"/><path class="dl" d="M465,1025H576M520,1025V1037"/><text class="t"><tspan x="520.5" y="999.5">BIOLOGÍA</tspan><tspan x="520.5" y="1013.5">CELULAR</tspan></text><text class="f" x="492.5" y="1034.5">PR086</text><text class="f" x="552" y="1034.5">3</text></g>
<g id="n-pcel"><rect class="bl" x="616" y="981" width="111" height="56"/><path class="dl" d="M616,1025H727M671,1025V1037"/><text class="t"><tspan x="671.5" y="999.5">PROCESOS</tspan><tspan x="671.5" y="1013.5">CELULARES</tspan></text><text class="f" x="643.5" y="1034.5">PR106</text><text class="f" x="703" y="1034.5">3</text></g>
<g id="n-biot"><rect class="bl" x="769" y="981" width="110" height="56"/><path class="dl" d="M769,1025H879M824,1025V1037"/><text class="t"><tspan x="824" y="999.5">PROCESOS DE</tspan><tspan x="824" y="1013.5">BIOTRANSFORM.</tspan></text><text class="f" x="796.5" y="1034.5">PR117</text><text class="f" x="855" y="1034.5">3</text></g>
<g id="n-oper"><rect class="bl" x="920" y="982" width="110" height="55"/><path class="dl" d="M920,1026H1030M975,1026V1037"/><text class="t" x="975" y="1001.5">OPERACIONES</text><text class="s" font-size="5.5" x="975" y="1012.5">BIOTECNOLÓGICAS</text><text class="f" x="947.5" y="1035">PR118</text><text class="f" x="1006" y="1035">3</text></g>
<g id="n-reac"><path class="bd" d="M1089,952H1138V970L1113.5,976L1089,970Z"/><text class="bt" x="1113.5" y="962">98</text><rect class="bl" x="1062" y="977" width="110" height="54"/><path class="dl" d="M1062,1021H1172M1117,1021V1031"/><text class="t"><tspan x="1117" y="994.5">DISEÑO DE</tspan><tspan x="1117" y="1008.5">REACTORES</tspan></text><text class="f" x="1089.5" y="1029.5">PR085</text><text class="f" x="1148" y="1029.5">3</text></g>
<g id="n-sim"><rect class="bl" x="1212" y="977" width="110" height="56"/><path class="dl" d="M1212,1023H1322M1267,1023V1033"/><text class="t"><tspan x="1267" y="995.5">SIMULACIÓN</tspan><tspan x="1267" y="1009.5">DE PROCESOS</tspan></text><text class="f" x="1239.5" y="1031.5">PR116</text><text class="f" x="1298" y="1031.5">3</text></g>
<g id="n-opt"><rect class="bl" x="1373" y="977" width="111" height="56"/><path class="dl" d="M1373,1023H1484M1428,1023V1033"/><text class="t"><tspan x="1428.5" y="995.5">OPTIMIZACIÓN</tspan><tspan x="1428.5" y="1009.5">DE PROCESOS</tspan></text><text class="f" x="1400.5" y="1031.5">PR115</text><text class="f" x="1460" y="1031.5">3</text></g>
<g id="n-pdis"><rect class="bl" x="1516" y="977" width="111" height="54"/><path class="dl" d="M1516,1020H1627M1571,1020V1031"/><text class="t"><tspan x="1571.5" y="994.5">PROYECTO</tspan><tspan x="1571.5" y="1008.5">DE DISEÑO</tspan></text><text class="f" x="1543.5" y="1029">PR219</text><text class="f" x="1603" y="1029">3</text></g>
</svg>
